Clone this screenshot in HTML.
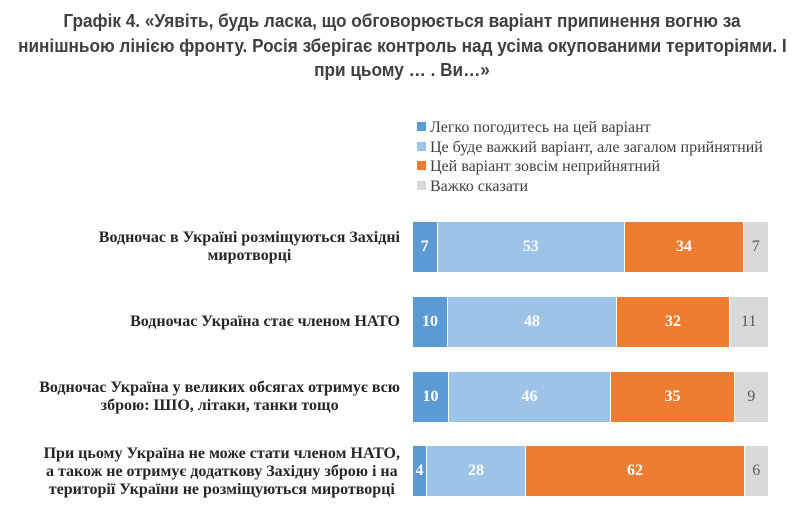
<!DOCTYPE html>
<html><head><meta charset="utf-8"><style>
body{margin:0;width:804px;height:506px;background:#fff;position:relative;overflow:hidden;font-family:"Liberation Serif",serif}
.t{position:absolute;left:0;width:804px;text-align:center;font-family:"Liberation Sans",sans-serif;font-weight:bold;font-size:18px;color:#404040;line-height:24.5px;top:9px}
.t div{white-space:nowrap;transform:scaleX(0.955);transform-origin:center}
.lg{position:absolute;left:417px;font-size:16px;color:#404040;line-height:19.5px}
.lg div{white-space:nowrap}
.lg span{display:inline-block;width:9px;height:9px;margin-right:4px;vertical-align:1px}
.bar{position:absolute;left:413px;height:50px;display:flex}
.bar div{height:100%;display:flex;align-items:center;justify-content:center;font-weight:bold;font-size:16px;color:#fff;border-right:1px solid #fff;box-sizing:border-box}
.a{background:#5b9bd5}.b{background:#9dc3e6}.c{background:#ed7d31}.d{background:#d9d9d9;color:#595959!important;font-weight:normal!important}
.lab{position:absolute;left:0px;font-weight:bold;font-size:16px;color:#262626;line-height:18px;display:flex;align-items:center;justify-content:flex-end;height:50px;width:400px}
.lab div{text-align:center}
</style></head><body>
<div class="t"><div>Графік 4. «Уявіть, будь ласка, що обговорюється варіант припинення вогню за</div><div>нинішньою лінією фронту. Росія зберігає контроль над усіма окупованими територіями. І</div><div>при цьому … . Ви…»</div></div>
<div class="lg" style="top:118px">
<div><span class="a"></span>Легко погодитесь на цей варіант</div>
<div><span class="b"></span>Це буде важкий варіант, але загалом прийнятний</div>
<div><span class="c"></span>Цей варіант зовсім неприйнятний</div>
<div><span class="d"></span>Важко сказати</div>
</div>
<div class="lab" style="top:222px"><div>Водночас в Україні розміщуються Західні<br>миротворці</div></div>
<div class="bar" style="top:222px"><div class="a" style="width:24.5px">7</div><div class="b" style="width:187.5px">53</div><div class="c" style="width:119px">34</div><div class="d" style="width:24.5px">7</div></div>
<div class="lab" style="top:297px"><div>Водночас Україна стає членом НАТО</div></div>
<div class="bar" style="top:297px"><div class="a" style="width:35px">10</div><div class="b" style="width:169px">48</div><div class="c" style="width:113px">32</div><div class="d" style="width:38.5px">11</div></div>
<div class="lab" style="top:372px"><div>Водночас Україна у великих обсягах отримує всю<br>зброю: ШІО, літаки, танки тощо</div></div>
<div class="bar" style="top:372px"><div class="a" style="width:36px">10</div><div class="b" style="width:162px">46</div><div class="c" style="width:124px">35</div><div class="d" style="width:33.5px">9</div></div>
<div class="lab" style="top:446px;height:52px"><div>При цьому Україна не може стати членом НАТО,<br>а також не отримує додаткову Західну зброю і на<br>території України не розміщуються миротворці</div></div>
<div class="bar" style="top:446px"><div class="a" style="width:14px">4</div><div class="b" style="width:99px">28</div><div class="c" style="width:219px">62</div><div class="d" style="width:23.5px">6</div></div>
</body></html>
